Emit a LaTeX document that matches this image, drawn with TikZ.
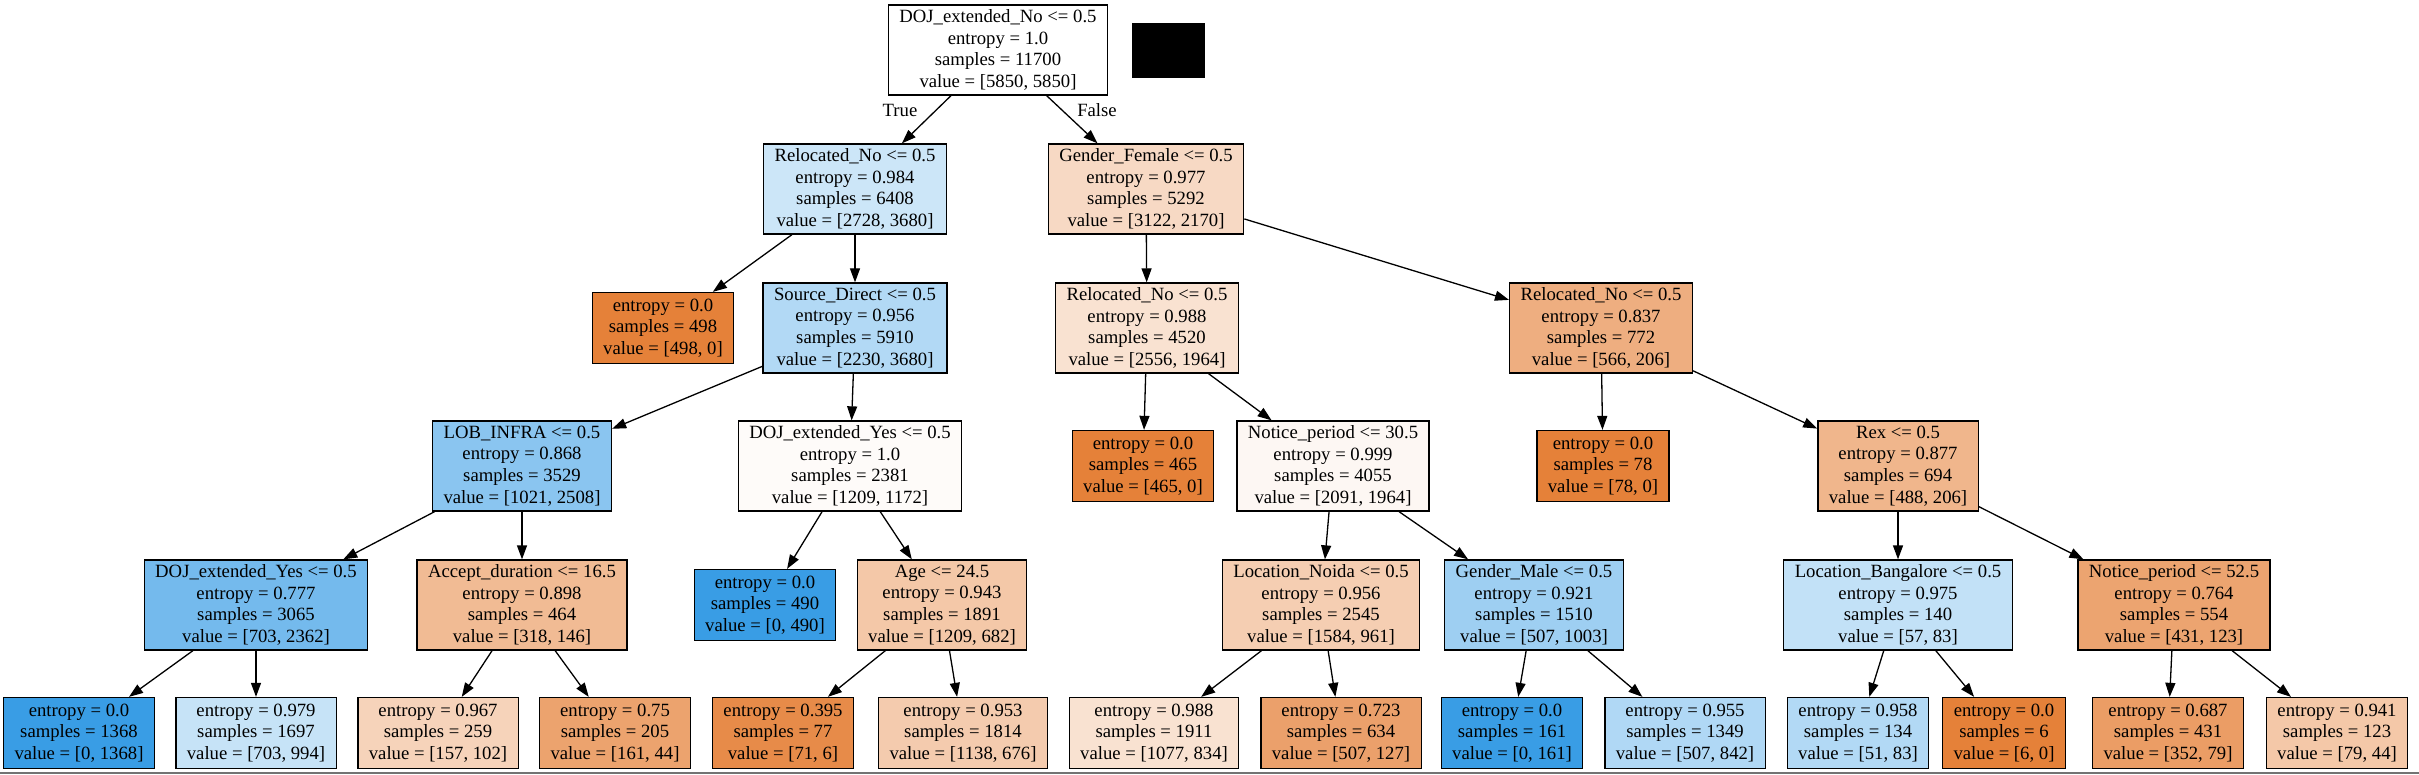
\documentclass[tikz,border=0pt]{standalone}
\usepackage{fontspec}
\setmainfont{Liberation Serif}
\usetikzlibrary{arrows.meta}
\definecolor{cOrange}{RGB}{229,129,57}
\definecolor{cBlue}{RGB}{57,157,229}
\definecolor{cRule}{gray}{0.45}
\tikzset{
    split/.style={rectangle, draw, line width=1.3pt, align=center, minimum height=90pt,
                  inner xsep=11pt, inner ysep=0pt, font=\fontsize{18.7}{21.7}\selectfont},
    leaf/.style={split, minimum height=71pt},
    link/.style={line width=1.3pt, -{Triangle[length=14pt,width=10pt]}},
    tag/.style={font=\fontsize{18.7}{21.7}\selectfont, inner sep=0pt}
}

\begin{document}
\begin{tikzpicture}[x=1pt,y=-1pt]
\useasboundingbox (0,0) rectangle (2419,775);
\draw[line width=2.5pt,cRule] (0,773)--(2419,773);
\fill[black] (1132,23) rectangle (1205,78);
% root and first split
\node[split] (n0) at (998,50) {DOJ\_extended\_No <= 0.5\\entropy = 1.0\\samples = 11700\\value = [5850, 5850]};
\node[split, fill=cBlue!26!white] (n1) at (855,189) {Relocated\_No <= 0.5\\entropy = 0.984\\samples = 6408\\value = [2728, 3680]};
\node[split, fill=cOrange!30!white] (n2) at (1146,189) {Gender\_Female <= 0.5\\entropy = 0.977\\samples = 5292\\value = [3122, 2170]};
% rank 2
\node[leaf, fill=cOrange] (n3) at (663,328) {entropy = 0.0\\samples = 498\\value = [498, 0]};
\node[split, fill=cBlue!39!white] (n4) at (855,328) {Source\_Direct <= 0.5\\entropy = 0.956\\samples = 5910\\value = [2230, 3680]};
\node[split, fill=cOrange!23!white] (n5) at (1147,328) {Relocated\_No <= 0.5\\entropy = 0.988\\samples = 4520\\value = [2556, 1964]};
\node[split, fill=cOrange!64!white] (n6) at (1601,328) {Relocated\_No <= 0.5\\entropy = 0.837\\samples = 772\\value = [566, 206]};
% rank 3
\node[split, fill=cBlue!59!white] (n7) at (522,466) {LOB\_INFRA <= 0.5\\entropy = 0.868\\samples = 3529\\value = [1021, 2508]};
\node[split, fill=cOrange!3!white] (n8) at (850,466) {DOJ\_extended\_Yes <= 0.5\\entropy = 1.0\\samples = 2381\\value = [1209, 1172]};
\node[leaf, fill=cOrange] (n9) at (1143,466) {entropy = 0.0\\samples = 465\\value = [465, 0]};
\node[split, fill=cOrange!6!white] (n10) at (1333,466) {Notice\_period <= 30.5\\entropy = 0.999\\samples = 4055\\value = [2091, 1964]};
\node[leaf, fill=cOrange] (n11) at (1603,466) {entropy = 0.0\\samples = 78\\value = [78, 0]};
\node[split, fill=cOrange!58!white] (n12) at (1898,466) {Rex <= 0.5\\entropy = 0.877\\samples = 694\\value = [488, 206]};
% rank 4
\node[split, fill=cBlue!70!white] (n13) at (256,605) {DOJ\_extended\_Yes <= 0.5\\entropy = 0.777\\samples = 3065\\value = [703, 2362]};
\node[split, fill=cOrange!54!white] (n14) at (522,605) {Accept\_duration <= 16.5\\entropy = 0.898\\samples = 464\\value = [318, 146]};
\node[leaf, fill=cBlue] (n15) at (765,605) {entropy = 0.0\\samples = 490\\value = [0, 490]};
\node[split, fill=cOrange!44!white] (n16) at (942,605) {Age <= 24.5\\entropy = 0.943\\samples = 1891\\value = [1209, 682]};
\node[split, fill=cOrange!39!white] (n17) at (1321,605) {Location\_Noida <= 0.5\\entropy = 0.956\\samples = 2545\\value = [1584, 961]};
\node[split, fill=cBlue!49!white] (n18) at (1534,605) {Gender\_Male <= 0.5\\entropy = 0.921\\samples = 1510\\value = [507, 1003]};
\node[split, fill=cBlue!31!white] (n19) at (1898,605) {Location\_Bangalore <= 0.5\\entropy = 0.975\\samples = 140\\value = [57, 83]};
\node[split, fill=cOrange!72!white] (n20) at (2174,605) {Notice\_period <= 52.5\\entropy = 0.764\\samples = 554\\value = [431, 123]};
% rank 5, leaves only
\node[leaf, fill=cBlue] (n21) at (79,733) {entropy = 0.0\\samples = 1368\\value = [0, 1368]};
\node[leaf, fill=cBlue!29!white] (n22) at (256,733) {entropy = 0.979\\samples = 1697\\value = [703, 994]};
\node[leaf, fill=cOrange!35!white] (n23) at (438,733) {entropy = 0.967\\samples = 259\\value = [157, 102]};
\node[leaf, fill=cOrange!73!white] (n24) at (615,733) {entropy = 0.75\\samples = 205\\value = [161, 44]};
\node[leaf, fill=cOrange!92!white] (n25) at (783,733) {entropy = 0.395\\samples = 77\\value = [71, 6]};
\node[leaf, fill=cOrange!41!white] (n26) at (963,733) {entropy = 0.953\\samples = 1814\\value = [1138, 676]};
\node[leaf, fill=cOrange!23!white] (n27) at (1154,733) {entropy = 0.988\\samples = 1911\\value = [1077, 834]};
\node[leaf, fill=cOrange!75!white] (n28) at (1341,733) {entropy = 0.723\\samples = 634\\value = [507, 127]};
\node[leaf, fill=cBlue] (n29) at (1512,733) {entropy = 0.0\\samples = 161\\value = [0, 161]};
\node[leaf, fill=cBlue!40!white] (n30) at (1685,733) {entropy = 0.955\\samples = 1349\\value = [507, 842]};
\node[leaf, fill=cBlue!39!white] (n31) at (1858,733) {entropy = 0.958\\samples = 134\\value = [51, 83]};
\node[leaf, fill=cOrange] (n32) at (2004,733) {entropy = 0.0\\samples = 6\\value = [6, 0]};
\node[leaf, fill=cOrange!78!white] (n33) at (2168,733) {entropy = 0.687\\samples = 431\\value = [352, 79]};
\node[leaf, fill=cOrange!44!white] (n34) at (2337,733) {entropy = 0.941\\samples = 123\\value = [79, 44]};
% connectors
\draw[link] (n0) -- (n1);
\draw[link] (n0) -- (n2);
\node[tag] (yes) at (900,110) {True};
\node[tag] (no) at (1097,110) {False};
\draw[link] (n1) -- (n3);
\draw[link] (n1) -- (n4);
\draw[link] (n2) -- (n5);
\draw[link] (n2) -- (n6);
\draw[link] (n4) -- (n7);
\draw[link] (n4) -- (n8);
\draw[link] (n5) -- (n9);
\draw[link] (n5) -- (n10);
\draw[link] (n6) -- (n11);
\draw[link] (n6) -- (n12);
\draw[link] (n7) -- (n13);
\draw[link] (n7) -- (n14);
\draw[link] (n8) -- (n15);
\draw[link] (n8) -- (n16);
\draw[link] (n10) -- (n17);
\draw[link] (n10) -- (n18);
\draw[link] (n12) -- (n19);
\draw[link] (n12) -- (n20);
\draw[link] (n13) -- (n21);
\draw[link] (n13) -- (n22);
\draw[link] (n14) -- (n23);
\draw[link] (n14) -- (n24);
\draw[link] (n16) -- (n25);
\draw[link] (n16) -- (n26);
\draw[link] (n17) -- (n27);
\draw[link] (n17) -- (n28);
\draw[link] (n18) -- (n29);
\draw[link] (n18) -- (n30);
\draw[link] (n19) -- (n31);
\draw[link] (n19) -- (n32);
\draw[link] (n20) -- (n33);
\draw[link] (n20) -- (n34);
\end{tikzpicture}
\end{document}
